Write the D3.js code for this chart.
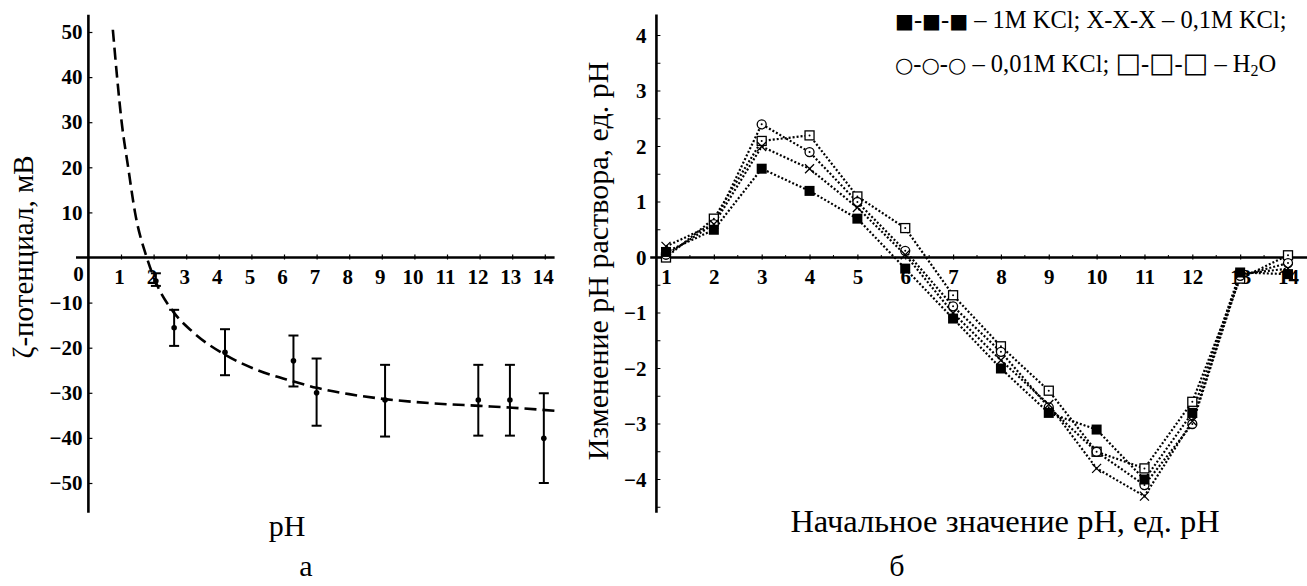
<!DOCTYPE html>
<html>
<head>
<meta charset="utf-8">
<script src="https://cdn.jsdelivr.net/npm/d3@7"></script>
<style>
  html, body { margin: 0; padding: 0; background: #fff; }
  svg { display: block; }
  text { font-family: "Liberation Serif", "Times New Roman", serif; fill: #000; }
  .tick text { font-weight: bold; font-size: 21px; font-family: "Liberation Serif", serif; }
  .sym { font-family: "DejaVu Sans", sans-serif; }
</style>
</head>
<body>
<svg id="chart" width="1307" height="586"></svg>
<script>
// ---- Panel а: zeta potential vs pH ----
const zetaTicks = [-50, -40, -30, -20, -10, 10, 20, 30, 40, 50];
const phTicksA = [1, 2, 3, 4, 5, 6, 7, 8, 9, 10, 11, 12, 13, 14];
// fitted trend (pH, mV)
const zetaFitPH = [0.75, 0.88, 1.02, 1.22, 1.43, 1.79, 2.1, 2.6, 3.2, 4.2, 5.2, 6.3, 7.0, 8.0, 9.1, 10.5, 12.0, 13.0, 14.3];
const zetaFitMV = [50.5, 40, 30, 20, 10, 0, -6, -12, -16.5, -21.6, -25, -27.5, -28.9, -30.3, -31.4, -32.3, -32.9, -33.3, -34.0];
// measured points with error bars
const zetaPH   = [2.07, 2.63, 4.19, 6.29, 7.0, 9.1, 11.96, 12.93, 13.97];
const zetaMean = [-5.2, -15.6, -21.0, -22.9, -30.0, -31.6, -31.6, -31.6, -40.1];
const zetaLow  = [-6.3, -19.6, -26.1, -28.6, -37.3, -39.7, -39.5, -39.5, -50.0];
const zetaHigh = [-3.5, -11.6, -15.9, -17.3, -22.4, -23.8, -23.8, -23.8, -30.1];

// ---- Panel б: change of solution pH vs initial pH ----
const phStart = [1, 2, 3, 4, 5, 6, 7, 8, 9, 10, 11, 12, 13, 14];
const dKCl1    = [0.1, 0.5, 1.6, 1.2, 0.7, -0.2, -1.1, -2.0, -2.8, -3.1, -4.0, -2.8, -0.27, -0.3];
const dKCl01   = [0.2, 0.6, 2.0, 1.6, 0.9, 0.05, -1.0, -1.85, -2.65, -3.8, -4.3, -2.95, -0.3, -0.2];
const dKCl001  = [0.05, 0.6, 2.4, 1.9, 1.0, 0.12, -0.88, -1.7, -2.7, -3.5, -4.1, -3.0, -0.33, -0.1];
const dH2O     = [0.0, 0.7, 2.1, 2.2, 1.1, 0.53, -0.68, -1.6, -2.4, -3.5, -3.8, -2.6, -0.38, 0.04];
const dTicks = [-4, -3, -2, -1, 0, 1, 2, 3, 4];

const svg = d3.select("#chart");

// ================= Panel а =================
const xA = d3.scaleLinear().domain([0, 14]).range([88.4, 544.8]);
const yA = d3.scaleLinear().domain([0, 50]).range([257.5, 32]);

const gA = svg.append("g");
// axis lines
gA.append("line").attr("x1", xA(-0.38)).attr("x2", xA(14.3)).attr("y1", yA(0)).attr("y2", yA(0))
  .attr("stroke", "#000").attr("stroke-width", 2.6);
gA.append("line").attr("x1", xA(0)).attr("x2", xA(0)).attr("y1", yA(53.8)).attr("y2", yA(-56.6))
  .attr("stroke", "#000").attr("stroke-width", 2.6);

const axA_x = d3.axisBottom(xA).tickValues(phTicksA).tickSize(0).tickPadding(14).tickFormat(d3.format("d"));
const gAx = gA.append("g").attr("transform", `translate(0,${yA(0)})`).call(axA_x);
gAx.select(".domain").remove();
gAx.selectAll(".tick").append("line").attr("y1", -3).attr("y2", 2).attr("stroke", "#000").attr("stroke-width", 1.2);
gAx.selectAll(".tick text").attr("dy", "0.6em").attr("dx", -2);
gA.append("text").attr("x", xA(0) - 10).attr("y", yA(0) + 23).attr("text-anchor", "middle")
  .attr("font-weight", "bold").attr("font-size", 21).text("0");

const axA_y = d3.axisLeft(yA).tickValues(zetaTicks).tickSize(0).tickPadding(6).tickFormat(d3.format("d"));
const gAy = gA.append("g").attr("transform", `translate(${xA(0)},0)`).call(axA_y);
gAy.select(".domain").remove();
gAy.selectAll(".tick").append("line").attr("x1", 0).attr("x2", 4).attr("stroke", "#000").attr("stroke-width", 1.2);

// trend curve
const fitPts = zetaFitPH.map((p, i) => [p, zetaFitMV[i]]);
gA.append("path").datum(fitPts)
  .attr("fill", "none").attr("stroke", "#000").attr("stroke-width", 2.6)
  .attr("stroke-dasharray", "12,6")
  .attr("d", d3.line().x(d => xA(d[0])).y(d => yA(d[1])).curve(d3.curveMonotoneX));

// error bars
const errData = zetaPH.map((p, i) => ({ p, m: zetaMean[i], lo: zetaLow[i], hi: zetaHigh[i] }));
const eb = gA.append("g").selectAll("g").data(errData).join("g");
eb.append("line").attr("x1", d => xA(d.p)).attr("x2", d => xA(d.p))
  .attr("y1", d => yA(d.hi)).attr("y2", d => yA(d.lo)).attr("stroke", "#000").attr("stroke-width", 2);
eb.append("line").attr("x1", d => xA(d.p) - 5).attr("x2", d => xA(d.p) + 5)
  .attr("y1", d => yA(d.hi)).attr("y2", d => yA(d.hi)).attr("stroke", "#000").attr("stroke-width", 2);
eb.append("line").attr("x1", d => xA(d.p) - 5).attr("x2", d => xA(d.p) + 5)
  .attr("y1", d => yA(d.lo)).attr("y2", d => yA(d.lo)).attr("stroke", "#000").attr("stroke-width", 2);
eb.append("circle").attr("cx", d => xA(d.p)).attr("cy", d => yA(d.m)).attr("r", 2.8).attr("fill", "#000");

// titles
gA.append("text").attr("transform", `translate(33,257) rotate(-90)`).attr("text-anchor", "middle")
  .attr("font-size", 29).text("ζ-потенциал, мВ");
gA.append("text").attr("x", 287).attr("y", 536).attr("text-anchor", "middle").attr("font-size", 30).text("pH");
gA.append("text").attr("x", 306).attr("y", 576).attr("text-anchor", "middle").attr("font-size", 30).text("а");

// ================= Panel б =================
const xB = d3.scaleLinear().domain([1, 14]).range([666, 1288]);
const yB = d3.scaleLinear().domain([0, 4]).range([257.5, 35.5]);
const gB = svg.append("g");

gB.append("line").attr("x1", xB(0.67)).attr("x2", 1307).attr("y1", yB(0)).attr("y2", yB(0))
  .attr("stroke", "#000").attr("stroke-width", 2.6);
gB.append("line").attr("x1", xB(0.8)).attr("x2", xB(0.8)).attr("y1", yB(4.38)).attr("y2", yB(-4.6))
  .attr("stroke", "#000").attr("stroke-width", 2.6);

const axB_x = d3.axisBottom(xB).tickValues(phStart).tickSize(0).tickPadding(14).tickFormat(d3.format("d"));
const gBx = gB.append("g").attr("transform", `translate(0,${yB(0)})`).call(axB_x);
gBx.select(".domain").remove();
gBx.selectAll(".tick text").attr("dy", "0.6em");
gBx.selectAll(".tick").append("line").attr("y1", -3).attr("y2", 2).attr("stroke", "#000").attr("stroke-width", 1.2);
// half-unit minor ticks
const halfX = d3.range(1.5, 14, 1);
gB.append("g").selectAll("line").data(halfX).join("line")
  .attr("x1", d => xB(d)).attr("x2", d => xB(d)).attr("y1", yB(0) - 2.5).attr("y2", yB(0))
  .attr("stroke", "#000").attr("stroke-width", 1);

const axB_y = d3.axisLeft(yB).tickValues(dTicks).tickSize(0).tickPadding(10).tickFormat(d3.format("d"));
const gBy = gB.append("g").attr("transform", `translate(${xB(0.8)},0)`).call(axB_y);
gBy.select(".domain").remove();
const halfY = d3.range(-4.5, 4.5, 0.5);
gB.append("g").selectAll("line").data(halfY).join("line")
  .attr("x1", xB(0.8)).attr("x2", xB(0.8) + 4).attr("y1", d => yB(d)).attr("y2", d => yB(d))
  .attr("stroke", "#000").attr("stroke-width", 1);

const lineB = d3.line().x(d => xB(d[0])).y(d => yB(d[1]));
const series = [
  { vals: dH2O, shape: "openSquare" },
  { vals: dKCl001, shape: "circle" },
  { vals: dKCl01, shape: "cross" },
  { vals: dKCl1, shape: "filledSquare" }
];
series.forEach(s => {
  const pts = phStart.map((p, i) => [p, s.vals[i]]);
  gB.append("path").datum(pts).attr("fill", "none").attr("stroke", "#000")
    .attr("stroke-width", 2.2).attr("stroke-dasharray", "2,2").attr("d", lineB);
});
series.forEach(s => {
  const pts = phStart.map((p, i) => [p, s.vals[i]]);
  const g = gB.append("g").selectAll("g").data(pts).join("g")
    .attr("transform", d => `translate(${xB(d[0])},${yB(d[1])})`);
  if (s.shape === "filledSquare") {
    g.append("rect").attr("x", -5).attr("y", -5).attr("width", 10).attr("height", 10).attr("fill", "#000");
  } else if (s.shape === "openSquare") {
    g.append("rect").attr("x", -4.5).attr("y", -4.5).attr("width", 9).attr("height", 9)
      .attr("fill", "#fff").attr("stroke", "#000").attr("stroke-width", 1.3);
    g.append("circle").attr("r", 1).attr("fill", "#000");
  } else if (s.shape === "circle") {
    g.append("circle").attr("r", 4.5).attr("fill", "#fff").attr("stroke", "#000").attr("stroke-width", 1.3);
    g.append("circle").attr("r", 1).attr("fill", "#000");
  } else {
    g.append("path").attr("d", "M-4.5,-4.5L4.5,4.5M-4.5,4.5L4.5,-4.5")
      .attr("stroke", "#000").attr("stroke-width", 1.3);
  }
});

// titles
gB.append("text").attr("transform", `translate(608,261) rotate(-90)`).attr("text-anchor", "middle")
  .attr("font-size", 30).text("Изменение pH раствора, ед. pH");
gB.append("text").attr("x", 1005).attr("y", 532).attr("text-anchor", "middle").attr("font-size", 32.5)
  .text("Начальное значение pH, ед. pH");
gB.append("text").attr("x", 897).attr("y", 576).attr("text-anchor", "middle").attr("font-size", 30).text("б");

// legend
const leg1 = gB.append("text").attr("x", 895).attr("y", 28).attr("font-size", 24.5);
leg1.append("tspan").attr("class", "sym").attr("font-size", 20).text("■");
leg1.append("tspan").text("-");
leg1.append("tspan").attr("class", "sym").attr("font-size", 20).text("■");
leg1.append("tspan").text("-");
leg1.append("tspan").attr("class", "sym").attr("font-size", 20).text("■");
leg1.append("tspan").text(" – 1M KCl; X-X-X – 0,1M KCl;");

const leg2 = gB.append("text").attr("x", 895).attr("y", 72).attr("font-size", 24.5);
leg2.append("tspan").attr("class", "sym").attr("font-size", 21).text("○");
leg2.append("tspan").text("-");
leg2.append("tspan").attr("class", "sym").attr("font-size", 21).text("○");
leg2.append("tspan").text("-");
leg2.append("tspan").attr("class", "sym").attr("font-size", 21).text("○");
leg2.append("tspan").text(" – 0,01M KCl; ");
leg2.append("tspan").attr("class", "sym").attr("font-size", 27).text("□");
leg2.append("tspan").text("-");
leg2.append("tspan").attr("class", "sym").attr("font-size", 27).text("□");
leg2.append("tspan").text("-");
leg2.append("tspan").attr("class", "sym").attr("font-size", 27).text("□");
leg2.append("tspan").text(" – H");
leg2.append("tspan").attr("font-size", 16).attr("dy", 4).text("2");
leg2.append("tspan").attr("dy", -4).text("O");
</script>
</body>
</html>
